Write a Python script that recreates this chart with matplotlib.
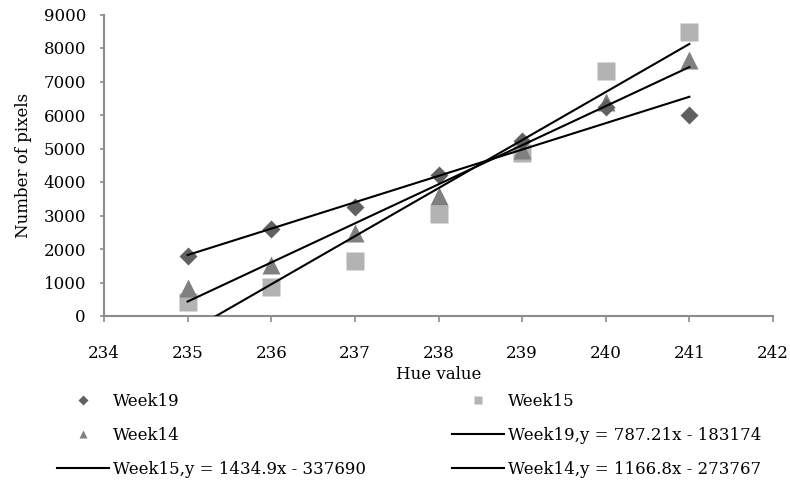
import numpy as np
import matplotlib
matplotlib.use("Agg")
import matplotlib.pyplot as plt
from matplotlib.lines import Line2D

plt.rcParams['font.family'] = ['DejaVu Serif']

hue = [235, 236, 237, 238, 239, 240, 241]
week19 = [1790, 2590, 3250, 4200, 5230, 6230, 6000]
week15 = [430, 880, 1630, 3050, 4880, 7300, 8480]
week14 = [830, 1520, 2480, 3580, 4950, 6380, 7650]

# trendline coefficients (slope, intercept) from the legend
trend19 = (787.21, -183174)
trend15 = (1434.9, -337690)
trend14 = (1166.8, -273767)

fs = 12
c19, c15, c14 = '#606060', '#b3b3b3', '#808080'
axcol = '#8c8c8c'

fig = plt.figure(figsize=(7.9, 4.84), dpi=100)
ax = fig.add_axes([104/790, 1-316/484, (773-104)/790, (316-14.5)/484])

ax.plot(hue, week19, 'D', color=c19, ms=9.2, mec='none', zorder=3)
ax.plot(hue, week15, 's', color=c15, ms=13, mec='none', zorder=2)
ax.plot(hue, week14, '^', color=c14, ms=13, mec='none', zorder=2.5)

xs = np.array([hue[0], hue[-1]], dtype=float)
for (m, b) in (trend19, trend15, trend14):
    ax.plot(xs, m*xs + b, '-', color='black', lw=1.5, zorder=4, clip_on=True)

ax.set_xlim(234, 242)
ax.set_ylim(0, 9000)
ax.set_xticks(range(234, 243))
ax.set_yticks(range(0, 9001, 1000))
for s in ('top', 'right'):
    ax.spines[s].set_visible(False)
for s in ('left', 'bottom'):
    ax.spines[s].set_color(axcol)
    ax.spines[s].set_linewidth(1.5)
ax.tick_params(axis='x', direction='out', length=4, width=1.2, color=axcol,
               pad=17, labelsize=fs)
ax.tick_params(axis='y', direction='out', length=3, width=1.2, color=axcol,
               pad=10, labelsize=fs)
ax.set_xlabel('Hue value', fontsize=fs, labelpad=3)
ax.set_ylabel('Number of pixels', fontsize=fs, labelpad=8)

def mk(marker, color, ms):
    return Line2D([], [], ls='none', marker=marker, color=color, ms=ms, mec='none')

def ln():
    return Line2D([], [], color='black', lw=1.5)

left_h = [mk('D', c19, 4.6), mk('^', c14, 6.2), ln()]
left_l = ['Week19', 'Week14', 'Week15,y = 1434.9x - 337690']
right_h = [mk('s', c15, 6.2), ln(), ln()]
right_l = ['Week15', 'Week19,y = 787.21x - 183174', 'Week14,y = 1166.8x - 273767']

kw = dict(frameon=False, loc='upper left', fontsize=fs, borderpad=0,
          borderaxespad=0, handlelength=3.1, handletextpad=0.25,
          labelspacing=1.02, bbox_transform=fig.transFigure)
leg1 = fig.legend(left_h, left_l, bbox_to_anchor=(57/790, 1-393/484), **kw)
leg2 = fig.legend(right_h, right_l, bbox_to_anchor=(452/790, 1-393/484), **kw)

fig.savefig('out.png', dpi=100)
